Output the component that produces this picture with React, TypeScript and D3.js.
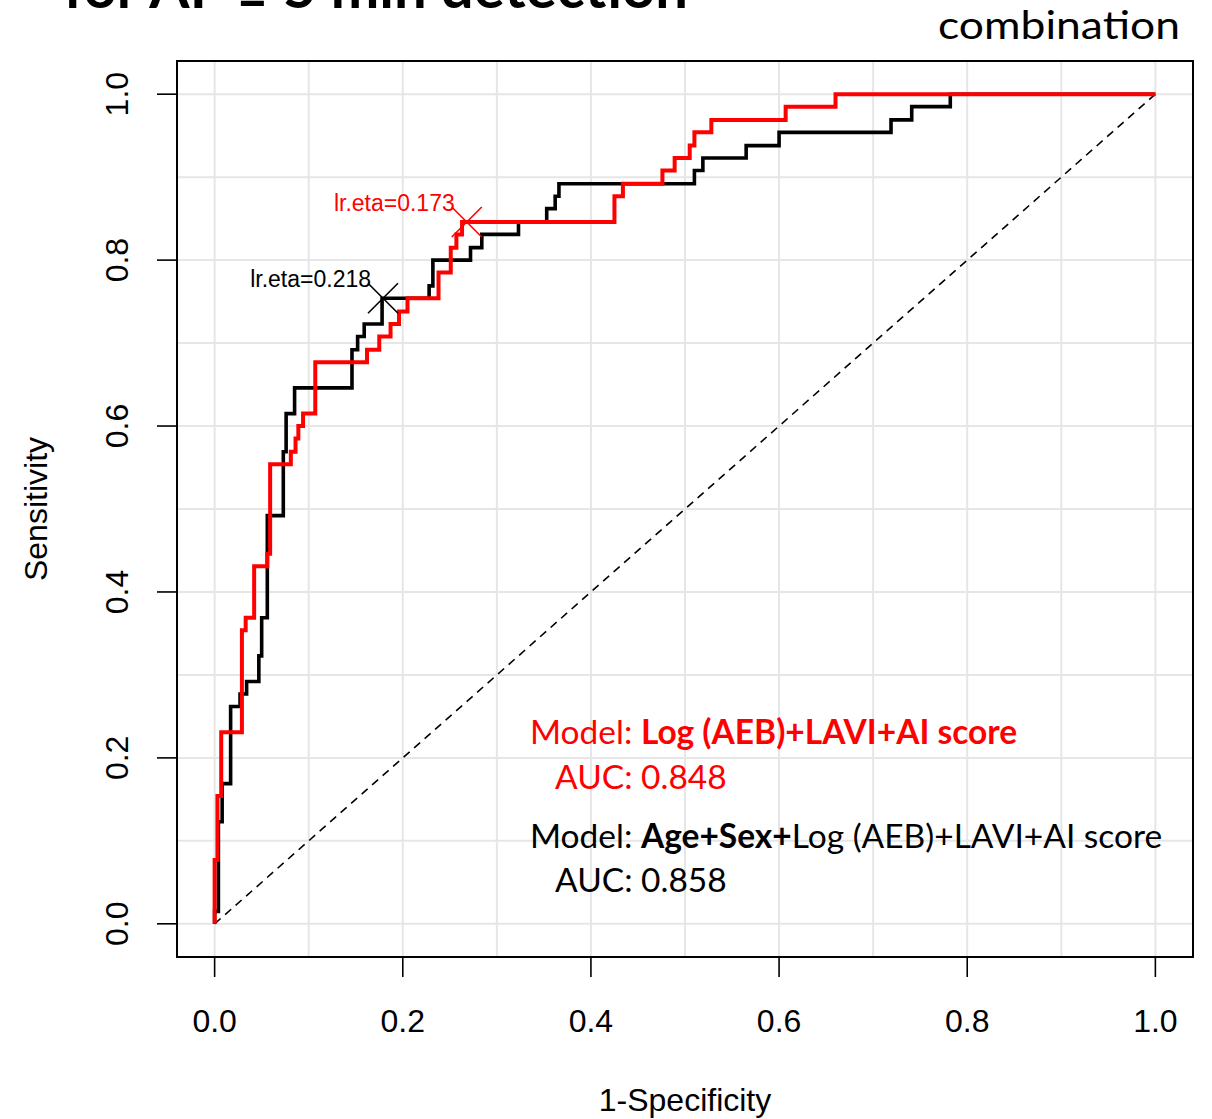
import React from 'react'
import * as d3 from 'd3'

// ROC corner points (1-specificity, sensitivity), drawn as steps
const redFpr = [0, 0.003, 0.007, 0.029, 0.033, 0.042, 0.056, 0.059, 0.081, 0.086, 0.089, 0.094, 0.107, 0.162, 0.175, 0.187, 0.196, 0.205, 0.238, 0.251, 0.257, 0.263, 0.425, 0.434, 0.476, 0.489, 0.505, 0.510, 0.528, 0.607, 0.660, 1]
const redTpr = [0, 0.077, 0.154, 0.231, 0.354, 0.369, 0.431, 0.446, 0.554, 0.569, 0.585, 0.600, 0.615, 0.677, 0.692, 0.708, 0.723, 0.738, 0.754, 0.785, 0.815, 0.831, 0.846, 0.877, 0.892, 0.908, 0.923, 0.938, 0.954, 0.969, 0.985, 1]

const blackFpr = [0, 0.004, 0.008, 0.017, 0.027, 0.034, 0.047, 0.050, 0.056, 0.073, 0.076, 0.085, 0.146, 0.152, 0.159, 0.178, 0.228, 0.232, 0.272, 0.284, 0.323, 0.353, 0.362, 0.366, 0.510, 0.519, 0.565, 0.600, 0.719, 0.741, 0.782, 1]
const blackTpr = [0, 0.015, 0.123, 0.169, 0.262, 0.277, 0.292, 0.323, 0.369, 0.492, 0.569, 0.615, 0.646, 0.692, 0.708, 0.723, 0.754, 0.769, 0.800, 0.815, 0.831, 0.846, 0.862, 0.877, 0.892, 0.908, 0.923, 0.938, 0.954, 0.969, 0.985, 1]

// best thresholds
const redThr = { fpr: 0.268, tpr: 0.846, label: 'lr.eta=0.173' }
const blackThr = { fpr: 0.179, tpr: 0.754, label: 'lr.eta=0.218' }

const axisTicks = [0, 0.2, 0.4, 0.6, 0.8, 1.0]
const gridTicks = [0, 0.1, 0.2, 0.3, 0.4, 0.5, 0.6, 0.7, 0.8, 0.9, 1.0]

const RED = '#ff0000'
const W = 1212, H = 1119
const box = { left: 177, right: 1193, top: 61, bottom: 957 }

const x = d3.scaleLinear().domain([-0.04, 1.04]).range([box.left, box.right])
const y = d3.scaleLinear().domain([-0.04, 1.04]).range([box.bottom, box.top])

const stepLine = d3.line<number>()
  .x(d => x(d[0]))
  .y(d => y(d[1]))
  .curve(d3.curveStepBefore)

const zip = (a: number[], b: number[]) => a.map((v, i) => [v, b[i]])

const rFont = '"Liberation Sans", Arial, sans-serif'
const cFont = 'Lato, "Open Sans", sans-serif'

const Cross = ({ cx, cy, color }: { cx: number, cy: number, color: string }) => {
  const s = 15
  return (
    <g stroke={color} strokeWidth={1.6}>
      <line x1={cx - s} y1={cy - s} x2={cx + s} y2={cy + s} />
      <line x1={cx - s} y1={cy + s} x2={cx + s} y2={cy - s} />
    </g>
  )
}

export default function App() {
  const thresholds = [
    { ...blackThr, color: '#000' },
    { ...redThr, color: RED },
  ]
  return (
    <div style={{ position: 'absolute', left: 0, top: 0 }}>
      <svg width={W} height={H} style={{ display: 'block', background: '#fff' }}>
        {/* slide title, cut at the top like on the slide */}
        <text x={688} y={8} textAnchor="end" fontFamily={cFont} fontWeight="bold" fontSize={58}>for AF ≥ 5 min detection</text>
        <text x={938} y={39} fontFamily={cFont} fontSize={39} textLength={242} lengthAdjust="spacingAndGlyphs">combination</text>

        {/* grid */}
        <g stroke="#e6e6e6" strokeWidth={2}>
          {gridTicks.map(t => (
            <line key={'v' + t} x1={x(t)} x2={x(t)} y1={box.top} y2={box.bottom} />
          ))}
          {gridTicks.map(t => (
            <line key={'h' + t} x1={box.left} x2={box.right} y1={y(t)} y2={y(t)} />
          ))}
        </g>

        {/* diagonal */}
        <line x1={x(0)} y1={y(0)} x2={x(1)} y2={y(1)} stroke="#000" strokeWidth={1.6} strokeDasharray="8,6" />

        <path d={stepLine(zip(blackFpr, blackTpr) as any) || ''} fill="none" stroke="#000" strokeWidth={3.6} />
        <path d={stepLine(zip(redFpr, redTpr) as any) || ''} fill="none" stroke={RED} strokeWidth={4} />

        {thresholds.map(t => (
          <g key={t.label}>
            <Cross cx={x(t.fpr)} cy={y(t.tpr)} color={t.color} />
            <text x={x(t.fpr) - 12} y={y(t.tpr) - 11} textAnchor="end" fontFamily={rFont} fontSize={23} fill={t.color}>{t.label}</text>
          </g>
        ))}

        {/* box */}
        <rect x={box.left} y={box.top} width={box.right - box.left} height={box.bottom - box.top} fill="none" stroke="#000" strokeWidth={2} />

        {/* axes */}
        <g fontFamily={rFont} fontSize={32}>
          {axisTicks.map(t => (
            <g key={'x' + t}>
              <line x1={x(t)} x2={x(t)} y1={box.bottom} y2={box.bottom + 20} stroke="#000" strokeWidth={1.6} />
              <text x={x(t)} y={1032} textAnchor="middle">{d3.format('.1f')(t)}</text>
            </g>
          ))}
          {axisTicks.map(t => (
            <g key={'y' + t}>
              <line x1={box.left} x2={box.left - 20} y1={y(t)} y2={y(t)} stroke="#000" strokeWidth={1.6} />
              <text transform={`translate(128,${y(t)}) rotate(-90)`} textAnchor="middle">{d3.format('.1f')(t)}</text>
            </g>
          ))}
          <text x={(box.left + box.right) / 2} y={1111} textAnchor="middle">1-Specificity</text>
          <text transform={`translate(47,${(box.top + box.bottom) / 2}) rotate(-90)`} textAnchor="middle">Sensitivity</text>
        </g>

        {/* legend */}
        <g fontFamily={cFont} fontSize={33.5}>
          <text x={530} y={744} fill={RED}>Model: <tspan fontWeight="bold">Log (AEB)+LAVI+AI score</tspan></text>
          <text x={555} y={789} fill={RED}>AUC: 0.848</text>
          <text x={530} y={848} fill="#000">Model: <tspan fontWeight="bold">Age+Sex+</tspan>Log (AEB)+LAVI+AI score</text>
          <text x={555} y={892} fill="#000">AUC: 0.858</text>
        </g>
      </svg>
    </div>
  )
}
